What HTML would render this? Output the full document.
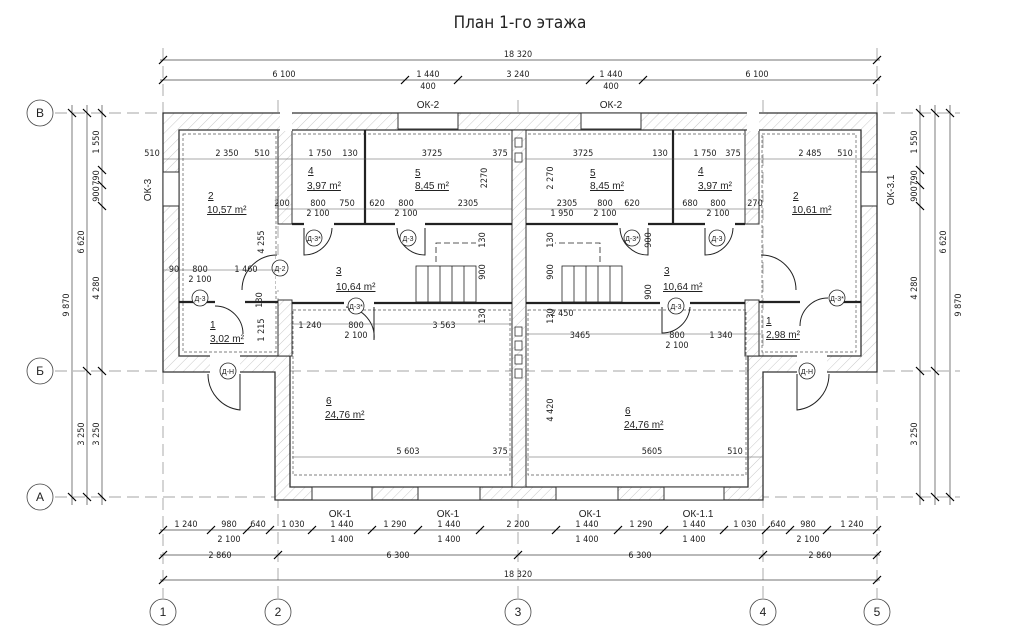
<!DOCTYPE html>
<html><head><meta charset="utf-8">
<style>
html,body{margin:0;padding:0;background:#fff;}
svg{display:block;font-family:"Liberation Sans",sans-serif;}
text{font-size:9px;fill:#222;}
.d{font-family:"DejaVu Sans Condensed","Liberation Sans",sans-serif;font-size:9px;}
.u text{text-decoration:underline;}
</style></head><body>
<svg width="1026" height="634" viewBox="0 0 1026 634" xmlns="http://www.w3.org/2000/svg">
<defs>
<pattern id="h" width="7" height="7" patternUnits="userSpaceOnUse" patternTransform="rotate(45)">
<rect width="7" height="7" fill="#fff"/><line x1="0" y1="0" x2="0" y2="7" stroke="#bbb" stroke-width="0.8"/></pattern>
<g id="t"><line x1="-4" y1="4" x2="4" y2="-4" stroke="#000" stroke-width="1.2"/></g>
<g id="tv"><line x1="-4" y1="-4" x2="4" y2="4" stroke="#000" stroke-width="1.2"/></g>
</defs>
<rect width="1026" height="634" fill="#fff"/>
<text x="520" y="28" text-anchor="middle" style="font-size:17px;font-family:'DejaVu Sans Condensed','Liberation Sans',sans-serif">План 1-го этажа</text>

<g stroke="#888" stroke-width="0.7" stroke-dasharray="12,6">
<line x1="55" y1="113" x2="960" y2="113"/>
<line x1="55" y1="371" x2="960" y2="371"/>
<line x1="55" y1="497" x2="960" y2="497"/>
<line x1="163" y1="48" x2="163" y2="598"/>
<line x1="278" y1="100" x2="278" y2="598"/>
<line x1="518" y1="100" x2="518" y2="598"/>
<line x1="763" y1="100" x2="763" y2="598"/>
<line x1="877" y1="48" x2="877" y2="598"/>
</g>
<g fill="#fff" stroke="#444" stroke-width="0.8">
<circle cx="40" cy="113" r="13"/><circle cx="40" cy="371" r="13"/><circle cx="40" cy="497" r="13"/>
<circle cx="163" cy="612" r="13"/><circle cx="278" cy="612" r="13"/><circle cx="518" cy="612" r="13"/><circle cx="763" cy="612" r="13"/><circle cx="877" cy="612" r="13"/>
</g>
<g text-anchor="middle">
<text x="40" y="117" style="font-size:12px">В</text><text x="40" y="375" style="font-size:12px">Б</text><text x="40" y="501" style="font-size:12px">А</text>
<text x="163" y="616" style="font-size:12px">1</text><text x="278" y="616" style="font-size:12px">2</text><text x="518" y="616" style="font-size:12px">3</text><text x="763" y="616" style="font-size:12px">4</text><text x="877" y="616" style="font-size:12px">5</text>
</g>

<path fill="url(#h)" fill-rule="evenodd" stroke="#333" stroke-width="1.3" d="M163,113 H877 V372 H763 V500 H275 V372 H163 Z M179,130 V356 H290 V487 H748 V356 H861 V130 Z"/>
<g fill="url(#h)" stroke="#333" stroke-width="1">
<rect x="278" y="130" width="14" height="94"/>
<rect x="278" y="300" width="14" height="56"/>
<rect x="745" y="130" width="14" height="94"/>
<rect x="745" y="300" width="14" height="56"/>
<rect x="512" y="130" width="14" height="357"/>
</g>
<g fill="#fff"><rect x="280" y="112" width="12" height="19"/><rect x="747" y="112" width="12" height="19"/></g>
<g fill="none" stroke="#555" stroke-width="0.7" stroke-dasharray="3,2">
<rect x="183" y="134" width="93" height="218"/>
<rect x="762" y="134" width="94" height="218"/>
<rect x="293" y="310" width="217" height="165"/>
<rect x="528" y="310" width="218" height="165"/>
<line x1="293" y1="134" x2="510" y2="134"/><line x1="528" y1="134" x2="744" y2="134"/>
</g>
<g stroke="#222" stroke-width="2.2" fill="none">
<line x1="292" y1="224" x2="512" y2="224"/><line x1="526" y1="224" x2="745" y2="224"/>
<line x1="292" y1="303" x2="512" y2="303"/><line x1="526" y1="303" x2="745" y2="303"/>
<line x1="179" y1="302" x2="278" y2="302"/><line x1="759" y1="302" x2="861" y2="302"/>
<line x1="365" y1="130" x2="365" y2="224"/><line x1="673" y1="130" x2="673" y2="224"/>
</g>
<g fill="#fff">
<rect x="304" y="220" width="30" height="8"/><rect x="395" y="220" width="30" height="8"/>
<rect x="618" y="220" width="30" height="8"/><rect x="705" y="220" width="30" height="8"/>
<rect x="344" y="299" width="30" height="8"/><rect x="660" y="299" width="30" height="8"/>
<rect x="215" y="298" width="30" height="8"/><rect x="800" y="298" width="30" height="8"/>
<rect x="276" y="255" width="18" height="35"/><rect x="743" y="255" width="18" height="35"/>
<rect x="210" y="354" width="30" height="20"/><rect x="797" y="354" width="30" height="20"/>
</g>
<g fill="none" stroke="#222" stroke-width="1">
<path d="M304,228 V255 A28,28 0 0 0 332,228"/><path d="M425,228 V255 A28,28 0 0 1 397,228"/>
<path d="M648,228 V255 A28,28 0 0 1 620,228"/><path d="M705,228 V255 A28,28 0 0 0 733,228"/>
<path d="M374,307 V340 A30,30 0 0 0 346,307"/><path d="M662,307 V333 A28,28 0 0 0 690,307"/>
<path d="M277,255 A35,35 0 0 0 242,290"/><path d="M761,255 A35,35 0 0 1 796,290"/>
<path d="M215,306 A28,28 0 0 1 243,334"/><path d="M828,298 A28,28 0 0 0 800,326"/>
<path d="M240,374 V410 A36,36 0 0 1 208,374"/><path d="M797,374 V410 A36,36 0 0 0 829,374"/>
</g>
<g fill="#fff" stroke="#222" stroke-width="0.8">
<circle cx="314" cy="238" r="8"/><circle cx="408" cy="238" r="8"/><circle cx="632" cy="238" r="8"/><circle cx="717" cy="238" r="8"/>
<circle cx="356" cy="306" r="8"/><circle cx="676" cy="306" r="8"/><circle cx="280" cy="268" r="8"/>
<circle cx="200" cy="298" r="8"/><circle cx="837" cy="298" r="8"/><circle cx="228" cy="371" r="8"/><circle cx="807" cy="371" r="8"/>
</g>
<g text-anchor="middle">
<text x="314" y="241" style="font-size:7px">Д-3*</text><text x="408" y="241" style="font-size:7px">Д-3</text><text x="632" y="241" style="font-size:7px">Д-3*</text><text x="717" y="241" style="font-size:7px">Д-3</text>
<text x="356" y="309" style="font-size:7px">Д-3*</text><text x="676" y="309" style="font-size:7px">Д-3</text><text x="280" y="271" style="font-size:7px">Д-2</text>
<text x="200" y="301" style="font-size:7px">Д-3</text><text x="837" y="301" style="font-size:7px">Д-3*</text><text x="228" y="374" style="font-size:7px">Д-Н</text><text x="807" y="374" style="font-size:7px">Д-Н</text>
</g>
<g stroke="#222" stroke-width="0.8" fill="none">
<rect x="416" y="266" width="60" height="36"/>
<line x1="428" y1="266" x2="428" y2="302"/><line x1="440" y1="266" x2="440" y2="302"/><line x1="452" y1="266" x2="452" y2="302"/><line x1="464" y1="266" x2="464" y2="302"/>
<rect x="562" y="266" width="60" height="36"/>
<line x1="574" y1="266" x2="574" y2="302"/><line x1="586" y1="266" x2="586" y2="302"/><line x1="598" y1="266" x2="598" y2="302"/><line x1="610" y1="266" x2="610" y2="302"/>
<path d="M436,262 V243 H476" stroke-dasharray="6,3"/><path d="M600,262 V243 H555" stroke-dasharray="6,3"/>
</g>
<g fill="#fff" stroke="#333" stroke-width="1">
<rect x="398" y="113" width="60" height="16"/><rect x="581" y="113" width="60" height="16"/>
<rect x="163" y="172" width="16" height="34"/><rect x="861" y="172" width="16" height="34"/>
<rect x="312" y="487" width="60" height="13"/><rect x="418" y="487" width="62" height="13"/>
<rect x="556" y="487" width="62" height="13"/><rect x="664" y="487" width="60" height="13"/>
</g>
<g fill="#fff" stroke="#333" stroke-width="0.8">
<rect x="515" y="138" width="7" height="9"/><rect x="515" y="153" width="7" height="9"/>
<rect x="515" y="327" width="7" height="9"/><rect x="515" y="341" width="7" height="9"/><rect x="515" y="355" width="7" height="9"/><rect x="515" y="369" width="7" height="9"/>
</g>
<g class="u">
<text x="208" y="199" style="font-size:10px">2</text><text x="207" y="213" style="font-size:10px">10,57 m²</text>
<text x="308" y="174" style="font-size:10px">4</text><text x="307" y="189" style="font-size:10px">3,97 m²</text>
<text x="415" y="176" style="font-size:10px">5</text><text x="415" y="189" style="font-size:10px">8,45 m²</text>
<text x="336" y="274" style="font-size:10px">3</text><text x="336" y="290" style="font-size:10px">10,64 m²</text>
<text x="210" y="328" style="font-size:10px">1</text><text x="210" y="342" style="font-size:10px">3,02 m²</text>
<text x="326" y="404" style="font-size:10px">6</text><text x="325" y="418" style="font-size:10px">24,76 m²</text>
<text x="590" y="176" style="font-size:10px">5</text><text x="590" y="189" style="font-size:10px">8,45 m²</text>
<text x="698" y="174" style="font-size:10px">4</text><text x="698" y="189" style="font-size:10px">3,97 m²</text>
<text x="793" y="199" style="font-size:10px">2</text><text x="792" y="213" style="font-size:10px">10,61 m²</text>
<text x="664" y="274" style="font-size:10px">3</text><text x="663" y="290" style="font-size:10px">10,64 m²</text>
<text x="766" y="324" style="font-size:10px">1</text><text x="766" y="338" style="font-size:10px">2,98 m²</text>
<text x="625" y="414" style="font-size:10px">6</text><text x="624" y="428" style="font-size:10px">24,76 m²</text>
</g>
<g text-anchor="middle">
<text x="428" y="108" style="font-size:10px">ОК-2</text><text x="611" y="108" style="font-size:10px">ОК-2</text>
<text x="340" y="517" style="font-size:10px">ОК-1</text><text x="448" y="517" style="font-size:10px">ОК-1</text>
<text x="590" y="517" style="font-size:10px">ОК-1</text><text x="698" y="517" style="font-size:10px">ОК-1.1</text>
<text transform="translate(151,190) rotate(-90)" style="font-size:10px">ОК-3</text>
<text transform="translate(894,190) rotate(-90)" style="font-size:10px">ОК-3.1</text>
</g>
<g stroke="#555" stroke-width="0.6">
<line x1="163" y1="159" x2="512" y2="159"/><line x1="526" y1="159" x2="877" y2="159"/>
<line x1="278" y1="209" x2="512" y2="209"/><line x1="526" y1="209" x2="760" y2="209"/>
<line x1="163" y1="270" x2="278" y2="270"/><line x1="292" y1="324" x2="512" y2="324"/><line x1="526" y1="334" x2="763" y2="334"/>
<line x1="292" y1="457" x2="512" y2="457"/><line x1="526" y1="457" x2="763" y2="457"/>
</g>
<g class="d" text-anchor="middle">
<text x="152" y="156">510</text><text x="227" y="156">2 350</text><text x="262" y="156">510</text><text x="320" y="156">1 750</text><text x="350" y="156">130</text><text x="432" y="156">3725</text><text x="500" y="156">375</text>
<text x="583" y="156">3725</text><text x="660" y="156">130</text><text x="705" y="156">1 750</text><text x="733" y="156">375</text><text x="810" y="156">2 485</text><text x="845" y="156">510</text>
<text x="282" y="206">200</text><text x="318" y="206">800</text><text x="347" y="206">750</text><text x="377" y="206">620</text><text x="406" y="206">800</text><text x="468" y="206">2305</text>
<text x="318" y="216">2 100</text><text x="406" y="216">2 100</text>
<text x="567" y="206">2305</text><text x="605" y="206">800</text><text x="632" y="206">620</text><text x="690" y="206">680</text><text x="718" y="206">800</text><text x="755" y="206">270</text>
<text x="605" y="216">2 100</text><text x="718" y="216">2 100</text><text x="562" y="216">1 950</text>
<text x="174" y="272">90</text><text x="200" y="272">800</text><text x="246" y="272">1 460</text><text x="200" y="282">2 100</text>
<text x="310" y="328">1 240</text><text x="356" y="328">800</text><text x="356" y="338">2 100</text><text x="444" y="328">3 563</text>
<text x="562" y="316">2 450</text><text x="580" y="338">3465</text><text x="677" y="338">800</text><text x="677" y="348">2 100</text><text x="721" y="338">1 340</text>
<text x="408" y="454">5 603</text><text x="500" y="454">375</text><text x="652" y="454">5605</text><text x="735" y="454">510</text>
</g>
<g class="d" text-anchor="middle">
<text transform="translate(264,242) rotate(-90)">4 255</text>
<text transform="translate(264,330) rotate(-90)">1 215</text>
<text transform="translate(262,300) rotate(-90)">130</text>
<text transform="translate(487,178) rotate(-90)">2270</text>
<text transform="translate(485,240) rotate(-90)">130</text>
<text transform="translate(485,272) rotate(-90)">900</text>
<text transform="translate(485,316) rotate(-90)">130</text>
<text transform="translate(553,178) rotate(-90)">2 270</text>
<text transform="translate(553,240) rotate(-90)">130</text>
<text transform="translate(553,272) rotate(-90)">900</text>
<text transform="translate(553,316) rotate(-90)">130</text>
<text transform="translate(553,410) rotate(-90)">4 420</text>
<text transform="translate(651,240) rotate(-90)">900</text>
<text transform="translate(651,292) rotate(-90)">900</text>
</g>
<g stroke="#444" stroke-width="0.7">
<line x1="160" y1="60" x2="880" y2="60"/><line x1="160" y1="80" x2="880" y2="80"/>
<line x1="160" y1="530" x2="880" y2="530"/><line x1="160" y1="555" x2="880" y2="555"/><line x1="160" y1="580" x2="880" y2="580"/>
<line x1="72" y1="105" x2="72" y2="505"/><line x1="87" y1="105" x2="87" y2="505"/><line x1="102" y1="105" x2="102" y2="505"/>
<line x1="920" y1="105" x2="920" y2="505"/><line x1="935" y1="105" x2="935" y2="505"/><line x1="950" y1="105" x2="950" y2="505"/>
</g>
<g>
<use href="#t" x="163" y="60"/><use href="#t" x="877" y="60"/>
<use href="#t" x="163" y="80"/><use href="#t" x="405" y="80"/><use href="#t" x="458" y="80"/><use href="#t" x="590" y="80"/><use href="#t" x="643" y="80"/><use href="#t" x="877" y="80"/>
<use href="#t" x="163" y="530"/><use href="#t" x="211" y="530"/><use href="#t" x="247" y="530"/><use href="#t" x="270" y="530"/><use href="#t" x="312" y="530"/><use href="#t" x="372" y="530"/><use href="#t" x="418" y="530"/><use href="#t" x="480" y="530"/><use href="#t" x="556" y="530"/><use href="#t" x="618" y="530"/><use href="#t" x="664" y="530"/><use href="#t" x="724" y="530"/><use href="#t" x="766" y="530"/><use href="#t" x="790" y="530"/><use href="#t" x="827" y="530"/><use href="#t" x="877" y="530"/>
<use href="#t" x="163" y="555"/><use href="#t" x="278" y="555"/><use href="#t" x="518" y="555"/><use href="#t" x="763" y="555"/><use href="#t" x="877" y="555"/>
<use href="#t" x="163" y="580"/><use href="#t" x="877" y="580"/>
<use href="#tv" x="72" y="113"/><use href="#tv" x="72" y="497"/><use href="#tv" x="87" y="113"/><use href="#tv" x="87" y="371"/><use href="#tv" x="87" y="497"/>
<use href="#tv" x="102" y="113"/><use href="#tv" x="102" y="170"/><use href="#tv" x="102" y="185"/><use href="#tv" x="102" y="206"/><use href="#tv" x="102" y="371"/><use href="#tv" x="102" y="497"/>
<use href="#tv" x="950" y="113"/><use href="#tv" x="950" y="497"/><use href="#tv" x="935" y="113"/><use href="#tv" x="935" y="371"/><use href="#tv" x="935" y="497"/>
<use href="#tv" x="920" y="113"/><use href="#tv" x="920" y="170"/><use href="#tv" x="920" y="185"/><use href="#tv" x="920" y="206"/><use href="#tv" x="920" y="371"/><use href="#tv" x="920" y="497"/>
</g>
<g class="d" text-anchor="middle">
<text x="518" y="57">18 320</text>
<text x="284" y="77">6 100</text><text x="428" y="77">1 440</text><text x="428" y="89">400</text><text x="518" y="77">3 240</text><text x="611" y="77">1 440</text><text x="611" y="89">400</text><text x="757" y="77">6 100</text>
<text x="186" y="527">1 240</text><text x="229" y="527">980</text><text x="258" y="527">640</text><text x="293" y="527">1 030</text><text x="342" y="527">1 440</text><text x="395" y="527">1 290</text><text x="449" y="527">1 440</text><text x="518" y="527">2 200</text><text x="587" y="527">1 440</text><text x="641" y="527">1 290</text><text x="694" y="527">1 440</text><text x="745" y="527">1 030</text><text x="778" y="527">640</text><text x="808" y="527">980</text><text x="852" y="527">1 240</text>
<text x="229" y="542">2 100</text><text x="342" y="542">1 400</text><text x="449" y="542">1 400</text><text x="587" y="542">1 400</text><text x="694" y="542">1 400</text><text x="808" y="542">2 100</text>
<text x="220" y="558">2 860</text><text x="398" y="558">6 300</text><text x="640" y="558">6 300</text><text x="820" y="558">2 860</text>
<text x="518" y="577">18 320</text>
</g>
<g class="d" text-anchor="middle">
<text transform="translate(69,305) rotate(-90)">9 870</text>
<text transform="translate(84,242) rotate(-90)">6 620</text><text transform="translate(84,434) rotate(-90)">3 250</text>
<text transform="translate(99,142) rotate(-90)">1 550</text><text transform="translate(99,178) rotate(-90)">790</text><text transform="translate(99,194) rotate(-90)">900</text><text transform="translate(99,288) rotate(-90)">4 280</text><text transform="translate(99,434) rotate(-90)">3 250</text>
<text transform="translate(917,142) rotate(-90)">1 550</text><text transform="translate(917,178) rotate(-90)">790</text><text transform="translate(917,194) rotate(-90)">900</text><text transform="translate(917,288) rotate(-90)">4 280</text><text transform="translate(917,434) rotate(-90)">3 250</text>
<text transform="translate(946,242) rotate(-90)">6 620</text><text transform="translate(961,305) rotate(-90)">9 870</text>
</g>
</svg>
</body></html>
